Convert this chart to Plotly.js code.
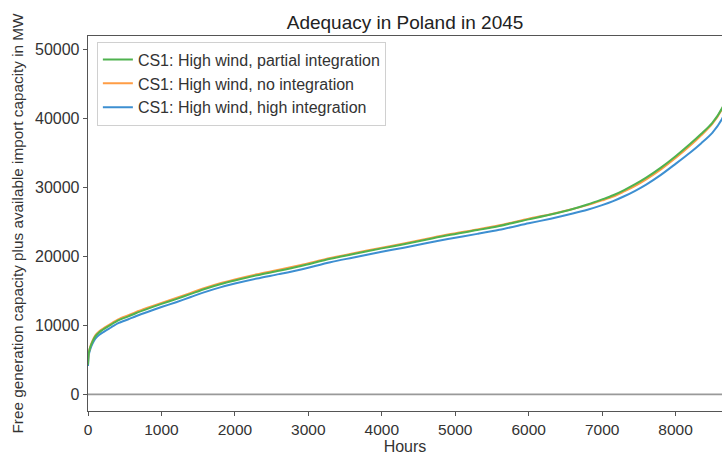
<!DOCTYPE html>
<html>
<head>
<meta charset="utf-8">
<script src="https://cdn.plot.ly/plotly-3.0.1.min.js"></script>
<style>html,body{margin:0;padding:0;background:#fff;}#chart{width:722px;height:456px;}</style>
</head>
<body>
<div id="chart"></div>
<script>
const hours = [0,10,30,60,100,150,230,320,420,550,650,800,1000,1200,1400,1600,1800,2000,2300,2600,2900,3300,3600,4000,4300,4600,4900,5300,5600,6000,6300,6600,6800,7000,7150,7300,7450,7600,7800,8000,8200,8350,8500,8632,8700,8760];

const partialIntegration = [4300,5900,6800,7600,8400,8950,9550,10150,10750,11300,11750,12350,13100,13800,14550,15300,15950,16500,17250,17900,18600,19650,20300,21150,21750,22400,23050,23800,24400,25350,26050,26850,27500,28250,28850,29600,30450,31400,32850,34500,36300,37750,39350,41450,43500,49000];

const noIntegration = [4500,6000,6900,7750,8550,9100,9700,10300,10900,11450,11900,12500,13250,13950,14700,15450,16100,16650,17400,18050,18750,19750,20400,21250,21850,22500,23150,23900,24500,25450,26100,26850,27420,28100,28650,29400,30200,31150,32600,34250,36050,37550,39200,41350,43400,49000];

const highIntegration = [4100,5650,6500,7300,8050,8600,9150,9750,10350,10880,11320,11900,12650,13350,14100,14850,15500,16050,16780,17420,18100,19150,19800,20650,21250,21900,22500,23250,23850,24780,25450,26200,26750,27420,28000,28700,29500,30400,31800,33400,35050,36400,37900,39900,41800,47000];

const seriesNames = ["CS1: High wind, high integration","CS1: High wind, no integration","CS1: High wind, partial integration"];
const seriesColors = ["#3d8fd1","#ff9d45","#4fb24f"];
const seriesData = [highIntegration, noIntegration, partialIntegration];

const traces = seriesData.map((vals, i) => ({
  x: hours, y: vals, type: "scatter", mode: "lines",
  name: seriesNames[i],
  line: {color: seriesColors[i], width: 2, shape: "spline", smoothing: 0.8}
}));

const font = "Liberation Sans, Arial, sans-serif";
const layout = {
  width: 722, height: 456,
  margin: {l: 88, r: 0, t: 36, b: 45},
  paper_bgcolor: "#fff", plot_bgcolor: "#fff",
  font: {family: font, size: 16, color: "#333"},
  title: {text: "Adequacy in Poland in 2045", font: {family: font, size: 19, color: "#222"}, x: 0.561, xanchor: "center", y: 0.952, yanchor: "middle"},
  showlegend: true,
  legend: {
    traceorder: "reversed",
    x: 0.014, y: 0.985, xanchor: "left", yanchor: "top",
    bgcolor: "rgba(255,255,255,0.9)", bordercolor: "#d0d0d0", borderwidth: 1,
    font: {family: font, size: 16, color: "#333"},
    itemwidth: 30, tracegroupgap: 0
  },
  xaxis: {
    range: [0, 8632], showgrid: false, zeroline: false,
    showline: true, mirror: true, linecolor: "#555", linewidth: 1.3,
    ticks: "outside", ticklen: 4, tickcolor: "#555",
    tickvals: [0,1000,2000,3000,4000,5000,6000,7000,8000],
    tickformat: "d",
    tickfont: {family: font, size: 15.5, color: "#333"},
    title: {text: "Hours", font: {family: font, size: 16, color: "#333"}, standoff: 4}
  },
  yaxis: {
    range: [-2420, 51930], showgrid: false, zeroline: false,
    showline: true, linecolor: "#555", linewidth: 1.3,
    ticks: "outside", ticklen: 4, tickcolor: "#555",
    tickvals: [0,10000,20000,30000,40000,50000],
    tickformat: "d",
    tickfont: {family: font, size: 16, color: "#333"},
    title: {text: "Free generation capacity plus available import capacity in MW", font: {family: font, size: 15.3, color: "#333"}, standoff: 7}
  },
  shapes: [{type: "line", xref: "paper", x0: 0, x1: 1, yref: "y", y0: 0, y1: 0, line: {color: "#999", width: 1.8}, layer: "below"}]
};

Plotly.newPlot("chart", traces, layout, {staticPlot: true, displayModeBar: false});
</script>
</body>
</html>
